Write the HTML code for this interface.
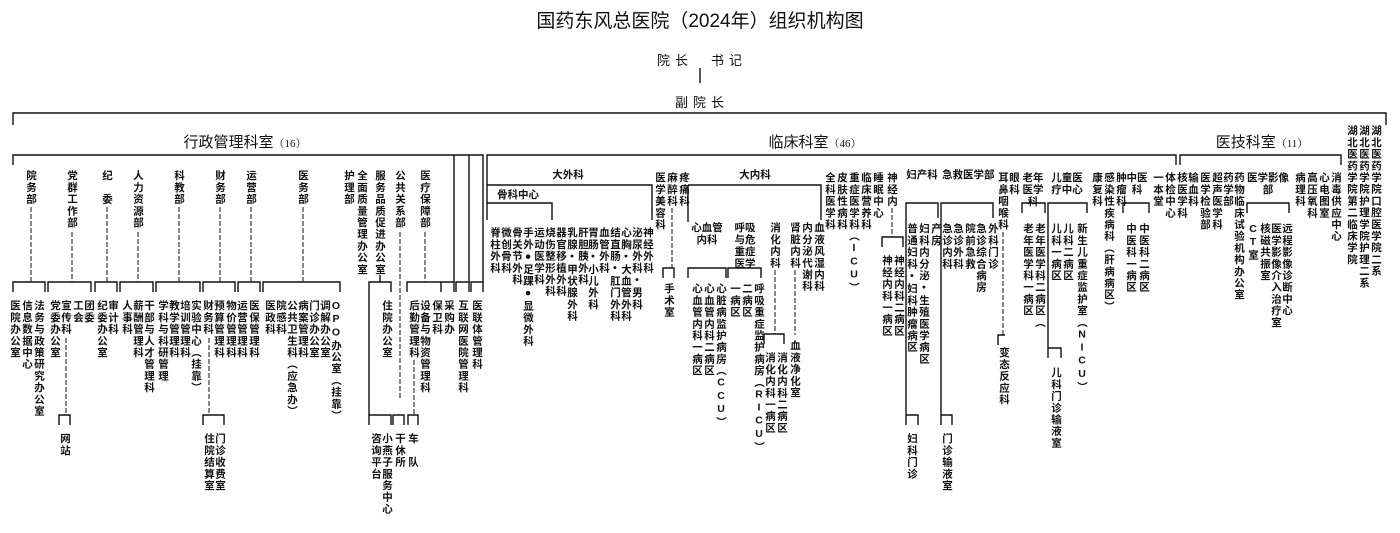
<!DOCTYPE html>
<html><head><meta charset="utf-8"><style>
body{margin:0;background:#fff;width:1400px;height:533px;overflow:hidden;position:relative;font-family:"Liberation Sans","Noto Sans CJK SC",sans-serif;color:#111}
.v{position:absolute;writing-mode:vertical-rl;text-orientation:upright;font-size:10.5px;letter-spacing:1.2px;line-height:12px;width:12px;font-weight:bold;white-space:nowrap}
.h{position:absolute;font-size:10.5px;line-height:12px;font-weight:bold;text-align:center;white-space:nowrap}
.c{position:absolute;font-size:15px;white-space:nowrap;transform:translateX(-50%)}
.c small{font-size:11px;font-family:"Liberation Serif","Noto Serif CJK SC",serif}
svg{position:absolute;left:0;top:0}
</style></head><body>
<div class="c" style="left:700px;top:6px;font-size:19px">国药东风总医院（2024年）组织机构图</div>
<div class="c" style="left:702px;top:50px;font-size:13px;letter-spacing:5px">院长　书记</div>
<div class="c" style="left:702px;top:92px;font-size:13px;letter-spacing:5px">副院长</div>
<div class="c" style="left:245px;top:131px">行政管理科室<small>（16）</small></div>
<div class="c" style="left:815px;top:131px">临床科室<small>（46）</small></div>
<div class="c" style="left:1262px;top:131px">医技科室<small>（11）</small></div>

<svg width="1400" height="533" stroke="#111" stroke-width="1.4" fill="none">
<path d="M700 68V83 M13 125V113H1386V125 M13 165V155H483V282 M454 155V282 M469 155V282 M487 220V155H1176V165 M1180 165V155H1341V165"/>
<g stroke-dasharray="5,2" stroke-width="1">
<path d="M31 207V282 M72 232V282 M107 207V282 M138 232V282 M179 207V282 M220 207V282 M251 207V282 M303 207V282 M400 232V400 M425 232V282 M66 338V415 M209 338V415 M414 360V415 M672 208V268 M775 270V334 M795 270V335 M892 208V237 M1003 232V335"/>
</g>
<path d="M380 275V282"/>
<!-- admin brackets y282 -->
<path d="M13 292V282H45V292 M48 292V282H91V292 M95 292V282H117V292 M120 292V282H153V292 M156 292V282H200V292 M203 292V282H235V292 M238 292V282H260V292 M263 292V282H340V292 M369 415V282H391V292 M407 292V282H441V292 M441 292V282H454V292 M456 292V282H469V292 M471 292V282H483V292"/>
<path d="M59 425V415H70V425 M203 425V415H224V425 M369 425V415H391V425 M393 425V415H404V425 M408 425V415H418V425"/>
<!-- clinical -->
<path d="M487 185H652V220 M487 203H552V220 M663 278V268H674V278 M688 185H821V220 M688 185V222 M688 278V268H726V278 M728 278V268H761V278 M764 344V334H784V344"/>
<path d="M882 247V237H903V247 M906 415V203H938V218 M906 425V415H918V425 M941 415V203H993V218 M941 425V415H952V425 M998 345V335H1005 M1022 213V203H1045V213 M1048 348V203H1087V213 M1048 358V348H1061V358 M1123 213V203H1149V213 M1247 213V203H1289V213"/>
</svg>

<!-- admin top -->
<div class="v" style="left:25px;top:170px">院务部</div>
<div class="v" style="left:66px;top:170px">党群工作部</div>
<div class="v" style="left:101px;top:170px">纪　委</div>
<div class="v" style="left:132px;top:170px">人力资源部</div>
<div class="v" style="left:173px;top:170px">科教部</div>
<div class="v" style="left:214px;top:170px">财务部</div>
<div class="v" style="left:245px;top:170px">运营部</div>
<div class="v" style="left:297px;top:170px">医务部</div>
<div class="v" style="left:343px;top:170px">护理部</div>
<div class="v" style="left:356px;top:170px">全面质量管理办公室</div>
<div class="v" style="left:374px;top:170px">服务品质促进办公室</div>
<div class="v" style="left:394px;top:170px">公共关系部</div>
<div class="v" style="left:419px;top:170px">医疗保障部</div>
<!-- admin children -->
<div class="v" style="left:9px;top:300px">医院办公室</div>
<div class="v" style="left:21px;top:300px">信息数据中心</div>
<div class="v" style="left:33px;top:300px">法务与政策研究办公室</div>
<div class="v" style="left:49px;top:300px">党委办公室</div>
<div class="v" style="left:60px;top:300px">宣传科</div>
<div class="v" style="left:72px;top:300px">工会</div>
<div class="v" style="left:83px;top:300px">团委</div>
<div class="v" style="left:96px;top:300px">纪委办公室</div>
<div class="v" style="left:107px;top:300px">审计科</div>
<div class="v" style="left:121px;top:300px">人事科</div>
<div class="v" style="left:132px;top:300px">薪酬管理科</div>
<div class="v" style="left:143px;top:300px">干部与人才管理科</div>
<div class="v" style="left:157px;top:300px">学科与科研管理</div>
<div class="v" style="left:168px;top:300px">教学管理科</div>
<div class="v" style="left:179px;top:300px">培训管理科</div>
<div class="v" style="left:190px;top:300px">实验中心（挂靠）</div>
<div class="v" style="left:202px;top:300px">财务科</div>
<div class="v" style="left:213px;top:300px">预算管理科</div>
<div class="v" style="left:225px;top:300px">物价管理科</div>
<div class="v" style="left:236px;top:300px">运营管理科</div>
<div class="v" style="left:248px;top:300px">医保管理科</div>
<div class="v" style="left:264px;top:300px">医政科</div>
<div class="v" style="left:275px;top:300px">院感科</div>
<div class="v" style="left:286px;top:300px">公共卫生科（应急办）</div>
<div class="v" style="left:297px;top:300px">病案管理科</div>
<div class="v" style="left:308px;top:300px">门诊办公室</div>
<div class="v" style="left:319px;top:300px">调解办公室</div>
<div class="v" style="left:330px;top:300px">OPO办公室（挂靠）</div>
<div class="v" style="left:381px;top:300px">住院办公室</div>
<div class="v" style="left:408px;top:300px">后勤管理科</div>
<div class="v" style="left:419px;top:300px">设备与物资管理科</div>
<div class="v" style="left:431px;top:300px">保卫科</div>
<div class="v" style="left:443px;top:300px">采购办</div>
<div class="v" style="left:457px;top:300px">互联网医院管理科</div>
<div class="v" style="left:471px;top:300px">医联体管理科</div>
<div class="v" style="left:59px;top:433px">网站</div>
<div class="v" style="left:203px;top:433px">住院结算室</div>
<div class="v" style="left:214px;top:433px">门诊收费室</div>
<div class="v" style="left:370px;top:433px">咨询平台</div>
<div class="v" style="left:381px;top:433px">小燕子服务中心</div>
<div class="v" style="left:394px;top:433px">干休所</div>
<div class="v" style="left:407px;top:433px">车　队</div>

<!-- clinical -->
<div class="h" style="left:548px;top:169px;width:40px">大外科</div>
<div class="h" style="left:493px;top:189px;width:50px">骨科中心</div>
<div class="v" style="left:489px;top:227px">脊柱外科</div>
<div class="v" style="left:500px;top:227px">微创骨科</div>
<div class="v" style="left:511px;top:227px">骨关节外科</div>
<div class="v" style="left:522px;top:227px">手外●足踝●显微外科</div>
<div class="v" style="left:533px;top:227px">运动医学科</div>
<div class="v" style="left:544px;top:227px">烧伤整形外科</div>
<div class="v" style="left:555px;top:227px">器官移植外科</div>
<div class="v" style="left:566px;top:227px">乳腺•甲状腺外科</div>
<div class="v" style="left:577px;top:227px">肝胆胰外科</div>
<div class="v" style="left:587px;top:227px">胃肠•小儿外科</div>
<div class="v" style="left:598px;top:227px">血管外科</div>
<div class="v" style="left:609px;top:227px">结直肠•肛门外科</div>
<div class="v" style="left:620px;top:227px">心胸•大血管外科</div>
<div class="v" style="left:631px;top:227px">泌尿外科•男科</div>
<div class="v" style="left:642px;top:227px">神经外科</div>
<div class="v" style="left:654px;top:172px">医学美容科</div>
<div class="v" style="left:666px;top:172px">麻醉科</div>
<div class="v" style="left:678px;top:172px">疼痛科</div>
<div class="v" style="left:663px;top:283px">手术室</div>
<div class="h" style="left:735px;top:169px;width:40px">大内科</div>
<div class="h" style="left:687px;top:222px;width:40px">心血管<br>内科</div>
<div class="h" style="left:730px;top:222px;width:30px">呼吸<br>与危<br>重症<br>医学</div>
<div class="v" style="left:769px;top:222px">消化内科</div>
<div class="v" style="left:789px;top:222px">肾脏内科</div>
<div class="v" style="left:801px;top:222px">内分泌代谢科</div>
<div class="v" style="left:813px;top:222px">血液风湿内科</div>
<div class="v" style="left:691px;top:283px">心血管内科一病区</div>
<div class="v" style="left:703px;top:283px">心血管内科二病区</div>
<div class="v" style="left:715px;top:283px">心脏病监护病房（CCU）</div>
<div class="v" style="left:729px;top:283px">一病区</div>
<div class="v" style="left:741px;top:283px">二病区</div>
<div class="v" style="left:753px;top:283px">呼吸重症监护病房（RICU）</div>
<div class="v" style="left:764px;top:352px">消化内科一病区</div>
<div class="v" style="left:776px;top:352px">消化内科二病区</div>
<div class="v" style="left:789px;top:340px">血液净化室</div>
<div class="v" style="left:824px;top:172px">全科医学科</div>
<div class="v" style="left:836px;top:172px">皮肤性病科</div>
<div class="v" style="left:848px;top:172px">重症医学科（ICU）</div>
<div class="v" style="left:860px;top:172px">临床营养科</div>
<div class="v" style="left:872px;top:172px">睡眠中心</div>
<div class="v" style="left:886px;top:172px">神经内</div>
<div class="v" style="left:881px;top:255px">神经内科一病区</div>
<div class="v" style="left:893px;top:255px">神经内科二病区</div>
<div class="h" style="left:902px;top:169px;width:40px">妇产科</div>
<div class="v" style="left:906px;top:223px">普通妇科•妇科肿瘤病区</div>
<div class="v" style="left:918px;top:223px">妇科内分泌•生殖医学病区</div>
<div class="v" style="left:930px;top:223px">产房</div>
<div class="v" style="left:906px;top:433px">妇科门诊</div>
<div class="h" style="left:942px;top:169px;width:50px">急救医学部</div>
<div class="v" style="left:941px;top:223px">急诊内科</div>
<div class="v" style="left:952px;top:223px">急诊外科</div>
<div class="v" style="left:964px;top:223px">院前急救</div>
<div class="v" style="left:975px;top:223px">急诊综合病房</div>
<div class="v" style="left:987px;top:223px">外科门诊</div>
<div class="v" style="left:941px;top:433px">门诊输液室</div>
<div class="v" style="left:997px;top:172px">耳鼻咽喉科</div>
<div class="v" style="left:1008px;top:172px">眼科</div>
<div class="v" style="left:998px;top:347px">变态反应科</div>
<div class="h" style="left:1013px;top:172px;width:40px">老年<br>医学<br>科</div>
<div class="v" style="left:1022px;top:223px">老年医学科一病区</div>
<div class="v" style="left:1034px;top:223px">老年医学科二病区（</div>
<div class="h" style="left:1047px;top:172px;width:40px">儿童医<br>疗中心</div>
<div class="v" style="left:1050px;top:223px">儿科一病区</div>
<div class="v" style="left:1062px;top:223px">儿科二病区</div>
<div class="v" style="left:1076px;top:223px">新生儿重症监护室（NICU）</div>
<div class="v" style="left:1050px;top:367px">儿科门诊输液室</div>
<div class="v" style="left:1091px;top:172px">康复科</div>
<div class="v" style="left:1103px;top:172px">感染性疾病科（肝病病区）</div>
<div class="v" style="left:1115px;top:172px">肿瘤科</div>
<div class="h" style="left:1122px;top:172px;width:30px">中医<br>科</div>
<div class="v" style="left:1125px;top:223px">中医科一病区</div>
<div class="v" style="left:1138px;top:223px">中医科二病区</div>
<div class="v" style="left:1152px;top:172px">一本堂</div>
<div class="v" style="left:1164px;top:172px">体检中心</div>

<!-- tech -->
<div class="v" style="left:1176px;top:172px">核医学科</div>
<div class="v" style="left:1187px;top:172px">输血科</div>
<div class="v" style="left:1199px;top:172px">医学检验部</div>
<div class="v" style="left:1211px;top:172px">超声医学科</div>
<div class="v" style="left:1222px;top:172px">药学部</div>
<div class="v" style="left:1233px;top:172px">药物临床试验机构办公室</div>
<div class="h" style="left:1243px;top:172px;width:50px">医学影像<br>部</div>
<div class="v" style="left:1247px;top:223px">CT室</div>
<div class="v" style="left:1259px;top:223px">核磁共振室</div>
<div class="v" style="left:1270px;top:223px">医学影像介入治疗室</div>
<div class="v" style="left:1281px;top:223px">远程影像诊断中心</div>
<div class="v" style="left:1294px;top:172px">病理科</div>
<div class="v" style="left:1306px;top:172px">高压氧科</div>
<div class="v" style="left:1318px;top:172px">心电图室</div>
<div class="v" style="left:1330px;top:172px">消毒供应中心</div>
<div class="v" style="left:1346px;top:125px">湖北医药学院第二临床学院</div>
<div class="v" style="left:1358px;top:125px">湖北医药学院护理学院护理二系</div>
<div class="v" style="left:1370px;top:125px">湖北医药学院口腔医学院二系</div>
</body></html>
